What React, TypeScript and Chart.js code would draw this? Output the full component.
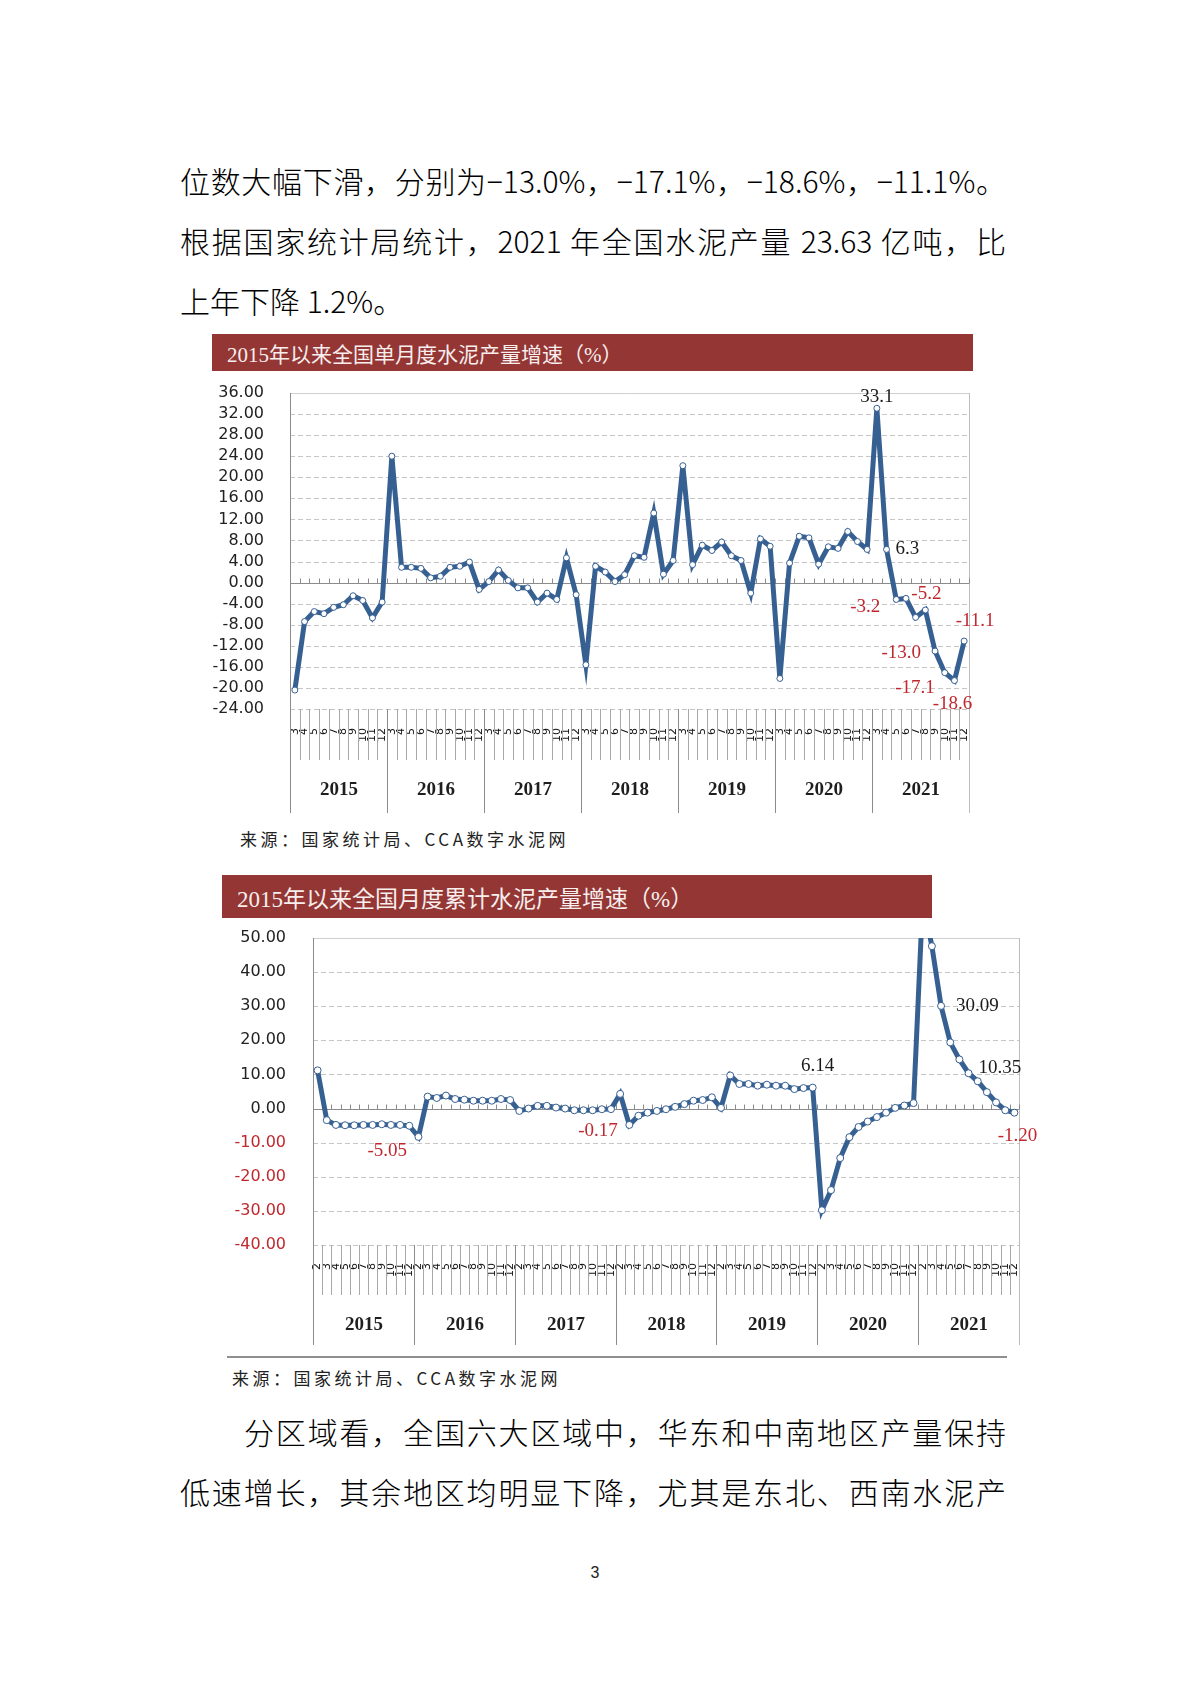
import React, { useEffect, useRef } from 'react';
import { Chart, registerables } from 'chart.js';

Chart.register(...registerables);

// ---------- data ----------
const years = ['2015', '2016', '2017', '2018', '2019', '2020', '2021'];
const singleMonthTicks = ['3', '4', '5', '6', '7', '8', '9', '10', '11', '12'];
const cumulativeMonthTicks = ['2', '3', '4', '5', '6', '7', '8', '9', '10', '11', '12'];

// 单月度增速 (%), 2015-03 ... 2021-12 (10 points per year)
const singleMonthGrowth = [
  -20.4, -7.4, -5.5, -5.9, -4.7, -4.2, -2.5, -3.4, -6.7, -3.7,
  24.0, 2.9, 2.9, 2.7, 0.9, 1.2, 2.9, 3.1, 3.9, -1.3,
  0.2, 2.4, 0.4, -1.0, -1.0, -3.7, -2.0, -3.2, 4.7, -2.3,
  -15.6, 3.1, 2.0, 0.2, 1.5, 5.1, 4.8, 13.2, 1.6, 4.2,
  22.2, 3.4, 7.1, 6.1, 7.7, 5.1, 4.2, -2.0, 8.3, 6.9,
  -18.2, 3.7, 8.8, 8.5, 3.5, 6.8, 6.5, 9.7, 7.8, 6.3,
  33.1, 6.3, -3.2, -3.0, -6.6, -5.2, -13.0, -17.1, -18.6, -11.1,
];

// 月度累计增速 (%), 2015 ... 2021 (11 points per year, 1-2月 merged)
const cumulativeGrowth = [
  11.2, -3.4, -4.8, -4.9, -4.9, -4.8, -4.8, -4.6, -4.8, -4.8, -5.05,
  -8.3, 3.5, 3.1, 3.8, 2.8, 2.6, 2.3, 2.3, 2.3, 2.8, 2.5,
  -0.7, 0.0, 0.8, 0.8, 0.3, 0.0, -0.5, -0.5, -0.5, -0.2, -0.17,
  4.3, -4.8, -2.1, -1.2, -0.7, -0.2, 0.5, 1.3, 2.3, 2.5, 3.3,
  0.2, 9.7, 7.2, 7.2, 6.7, 7.0, 6.7, 6.7, 5.7, 6.0, 6.14,
  -29.8, -23.9, -14.5, -8.4, -5.4, -3.8, -2.5, -1.2, 0.2, 0.9, 1.6,
  61.1, 47.6, 30.09, 19.4, 14.4, 10.35, 8.0, 4.8, 1.8, -0.5, -1.2,
];

// annotated values: [index, text]
const singleMonthAnnotIdx = [60, 61, 62, 65, 66, 67, 68, 69];
const singleMonthAnnotText = ['33.1', '6.3', '-3.2', '-5.2', '-13.0', '-17.1', '-18.6', '-11.1'];
const cumulativeAnnotIdx = [10, 32, 54, 68, 71, 76];
const cumulativeAnnotText = ['-5.05', '-0.17', '6.14', '30.09', '10.35', '-1.20'];

// ---------- styling ----------
const RED = '#c0282e';
const DARK = '#1a1a1a';
const LINE_BLUE = '#376092';

type Annot = { dx: number; dy: number; align: CanvasTextAlign };
const singleAnnotPos: Annot[] = [
  { dx: 0, dy: -11, align: 'center' },
  { dx: 9, dy: 0, align: 'left' },
  { dx: -16, dy: 8, align: 'right' },
  { dx: 1, dy: -16, align: 'center' },
  { dx: -14, dy: 2, align: 'right' },
  { dx: -10, dy: 15, align: 'right' },
  { dx: -2, dy: 23, align: 'center' },
  { dx: 11, dy: -20, align: 'center' },
];
const cumAnnotPos: Annot[] = [
  { dx: -22, dy: 25, align: 'center' },
  { dx: -13, dy: 22, align: 'center' },
  { dx: 5, dy: -22, align: 'center' },
  { dx: 15, dy: 0, align: 'left' },
  { dx: 10, dy: -5, align: 'left' },
  { dx: 3, dy: 23, align: 'center' },
];

function framePlugin(o: {
  perYear: number;
  catLen: number;
  yearLen: number;
  yearLabelDy: number;
  annotIdx: number[];
  annotText: string[];
  annotPos: Annot[];
}) {
  return {
    id: 'frame',
    beforeDatasetsDraw(chart: any) {
      const { ctx, chartArea: a, scales } = chart;
      const x = scales.x;
      const y = scales.y;
      const n = chart.data.labels.length;
      const step = x.getPixelForValue(1) - x.getPixelForValue(0);
      const bx = (k: number) => Math.round(x.getPixelForValue(k) - step / 2) + 0.5;
      ctx.save();
      ctx.lineWidth = 1;
      // horizontal gridlines
      for (const t of y.ticks) {
        if (t.value === 0) continue;
        const py = Math.round(y.getPixelForValue(t.value)) + 0.5;
        if (t.value === y.max) {
          ctx.setLineDash([]);
          ctx.strokeStyle = '#cfcfcf';
        } else {
          ctx.setLineDash([5, 3]);
          ctx.strokeStyle = '#c6c6c6';
        }
        ctx.beginPath();
        ctx.moveTo(a.left, py);
        ctx.lineTo(a.right, py);
        ctx.stroke();
      }
      ctx.setLineDash([]);
      // right border
      ctx.strokeStyle = '#bdbdbd';
      const rx = Math.round(a.right) + 0.5;
      ctx.beginPath();
      ctx.moveTo(rx, a.top);
      ctx.lineTo(rx, a.bottom + o.yearLen);
      ctx.stroke();
      // left axis
      ctx.strokeStyle = '#8c8c8c';
      const lx = Math.round(a.left) + 0.5;
      ctx.beginPath();
      ctx.moveTo(lx, a.top);
      ctx.lineTo(lx, a.bottom + o.yearLen);
      ctx.stroke();
      // zero line with small ticks
      const py0 = Math.round(y.getPixelForValue(0)) + 0.5;
      ctx.strokeStyle = '#8c8c8c';
      ctx.beginPath();
      ctx.moveTo(a.left, py0);
      ctx.lineTo(a.right, py0);
      for (let k = 0; k <= n; k++) {
        ctx.moveTo(bx(k), py0);
        ctx.lineTo(bx(k), py0 - 5);
      }
      ctx.stroke();
      // category and year separators below the plot
      for (let k = 1; k < n; k++) {
        const isYear = k % o.perYear === 0;
        ctx.strokeStyle = isYear ? '#8c8c8c' : '#a8a8a8';
        ctx.beginPath();
        ctx.moveTo(bx(k), a.bottom);
        ctx.lineTo(bx(k), a.bottom + (isYear ? o.yearLen : o.catLen));
        ctx.stroke();
      }
      // year labels
      ctx.fillStyle = '#1e1e1e';
      ctx.font = 'bold 19px "Liberation Serif", serif';
      ctx.textAlign = 'center';
      ctx.textBaseline = 'middle';
      years.forEach((yr, yi) => {
        const cx = (bx(yi * o.perYear) + bx((yi + 1) * o.perYear)) / 2;
        ctx.fillText(yr, cx, a.bottom + o.yearLabelDy);
      });
      ctx.restore();
    },
    afterDatasetsDraw(chart: any) {
      const { ctx, scales } = chart;
      const data = chart.data.datasets[0].data as number[];
      ctx.save();
      ctx.font = '19px "Liberation Serif", serif';
      ctx.textBaseline = 'middle';
      o.annotIdx.forEach((idx, j) => {
        const p = o.annotPos[j];
        const txt = o.annotText[j];
        const px = scales.x.getPixelForValue(idx);
        const py = scales.y.getPixelForValue(data[idx]);
        ctx.fillStyle = txt.startsWith('-') ? RED : DARK;
        ctx.textAlign = p.align;
        ctx.fillText(txt, px + p.dx, py + p.dy);
      });
      ctx.restore();
    },
  };
}

function buildConfig(p: {
  labels: string[];
  data: number[];
  yMin: number;
  yMax: number;
  yStep: number;
  yWidth: number;
  xHeight: number;
  padTop: number;
  padRight: number;
  yPad: number;
  xPad: number;
  negRed: boolean;
  pointRadius: number;
  plugin: any;
}): any {
  return {
    type: 'line',
    data: {
      labels: p.labels,
      datasets: [
        {
          data: p.data,
          borderColor: LINE_BLUE,
          borderWidth: 5,
          pointRadius: p.pointRadius,
          pointBackgroundColor: '#ffffff',
          pointBorderColor: LINE_BLUE,
          pointBorderWidth: 1,
          tension: 0,
          clip: 0,
        },
      ],
    },
    options: {
      responsive: false,
      animation: false,
      events: [],
      layout: { padding: { top: p.padTop, right: p.padRight, bottom: 0, left: 0 } },
      plugins: { legend: { display: false }, tooltip: { enabled: false }, title: { display: false } },
      scales: {
        x: {
          type: 'category',
          offset: true,
          grid: { display: false, drawTicks: false },
          border: { display: false },
          afterFit: (s: any) => {
            s.height = p.xHeight;
          },
          ticks: {
            autoSkip: false,
            minRotation: 90,
            maxRotation: 90,
            padding: p.xPad,
            color: '#111',
            font: { family: '"DejaVu Sans", sans-serif', size: 11 },
          },
        },
        y: {
          min: p.yMin,
          max: p.yMax,
          grid: { display: false, drawTicks: true, tickLength: p.yPad },
          border: { display: false },
          afterFit: (s: any) => {
            s.width = p.yWidth;
          },
          ticks: {
            stepSize: p.yStep,
            autoSkip: false,
            padding: 0,
            color: (c: any) => (p.negRed && c.tick && c.tick.value < 0 ? RED : '#222'),
            font: { family: '"DejaVu Sans", sans-serif', size: 16 },
            callback: (v: any) => Number(v).toFixed(2),
          },
        },
      },
    },
    plugins: [p.plugin],
  };
}

function ChartCanvas(props: { left: number; top: number; width: number; height: number; make: () => any }) {
  const ref = useRef<HTMLCanvasElement>(null);
  useEffect(() => {
    const chart = new Chart(ref.current as HTMLCanvasElement, props.make());
    return () => chart.destroy();
  }, []);
  return (
    <canvas
      ref={ref}
      width={props.width}
      height={props.height}
      style={{ position: 'absolute', left: props.left, top: props.top, width: props.width, height: props.height }}
    />
  );
}

const bodyFont = '"Liberation Sans Narrow", "Noto Sans CJK SC", sans-serif';

function BodyLine(props: { top: number; text: string; justify?: boolean; indent?: number }) {
  const indent = props.indent || 0;
  return (
    <div
      style={{
        position: 'absolute',
        left: 180 + indent,
        top: props.top - 20,
        width: 826 - indent,
        height: 40,
        lineHeight: '40px',
        fontSize: 30,
        fontWeight: 300,
        fontFamily: bodyFont,
        color: '#000',
        whiteSpace: 'nowrap',
        textAlign: props.justify ? 'justify' : 'left',
        textAlignLast: props.justify ? 'justify' : 'left',
      } as any}
    >
      {props.text}
    </div>
  );
}

function TitleBar(props: { left: number; top: number; width: number; height: number; size: number; text: string }) {
  return (
    <div
      style={{
        position: 'absolute',
        left: props.left,
        top: props.top,
        width: props.width,
        height: props.height,
        background: '#943634',
        color: '#f7eeee',
        fontFamily: '"Liberation Serif", "Noto Sans CJK SC", sans-serif',
        fontSize: props.size,
        display: 'flex',
        alignItems: 'center',
        paddingLeft: 15,
        boxSizing: 'border-box',
        whiteSpace: 'nowrap',
      }}
    >
      {props.text}
    </div>
  );
}

function Source(props: { left: number; top: number }) {
  return (
    <div
      style={{
        position: 'absolute',
        left: props.left,
        top: props.top - 12,
        height: 24,
        lineHeight: '24px',
        fontSize: 17,
        letterSpacing: 3.5,
        fontFamily: '"Noto Sans CJK SC", sans-serif',
        color: '#222',
        whiteSpace: 'nowrap',
      }}
    >
      来源：国家统计局、CCA数字水泥网
    </div>
  );
}

export default function App() {
  const singleLabels = years.flatMap(() => singleMonthTicks);
  const cumLabels = years.flatMap(() => cumulativeMonthTicks);

  const makeSingle = () =>
    buildConfig({
      labels: singleLabels,
      data: singleMonthGrowth,
      yMin: -24,
      yMax: 36,
      yStep: 4,
      yWidth: 90,
      xHeight: 116,
      padTop: 13,
      padRight: 31,
      yPad: 26,
      xPad: 19,
      negRed: false,
      pointRadius: 3,
      plugin: framePlugin({
        perYear: 10,
        catLen: 51,
        yearLen: 104,
        yearLabelDy: 81,
        annotIdx: singleMonthAnnotIdx,
        annotText: singleMonthAnnotText,
        annotPos: singleAnnotPos,
      }),
    });

  const makeCum = () =>
    buildConfig({
      labels: cumLabels,
      data: cumulativeGrowth,
      yMin: -40,
      yMax: 50,
      yStep: 10,
      yWidth: 93,
      xHeight: 110,
      padTop: 13,
      padRight: 41,
      yPad: 27,
      xPad: 18,
      negRed: true,
      pointRadius: 3.5,
      plugin: framePlugin({
        perYear: 11,
        catLen: 50,
        yearLen: 100,
        yearLabelDy: 80,
        annotIdx: cumulativeAnnotIdx,
        annotText: cumulativeAnnotText,
        annotPos: cumAnnotPos,
      }),
    });

  return (
    <div style={{ position: 'absolute', left: 0, top: 0, width: 1190, height: 1683, background: '#fff', overflow: 'hidden' }}>
      <BodyLine top={180} text="位数大幅下滑，分别为−13.0%，−17.1%，−18.6%，−11.1%。" justify />
      <BodyLine top={240} text="根据国家统计局统计，2021 年全国水泥产量 23.63 亿吨，比" justify />
      <BodyLine top={300} text="上年下降 1.2%。" />

      <TitleBar left={212} top={334} width={761} height={37} size={21} text="2015年以来全国单月度水泥产量增速（%）" />
      <ChartCanvas left={200} top={380} width={800} height={445} make={makeSingle} />
      <Source left={240} top={839} />

      <TitleBar left={222} top={875} width={710} height={43} size={23} text="2015年以来全国月度累计水泥产量增速（%）" />
      <ChartCanvas left={220} top={925} width={840} height={430} make={makeCum} />
      <div style={{ position: 'absolute', left: 227, top: 1356, width: 780, height: 2, background: '#8f8f8f' }} />
      <Source left={232} top={1378} />

      <BodyLine top={1431} indent={64} text="分区域看，全国六大区域中，华东和中南地区产量保持" justify />
      <BodyLine top={1491} text="低速增长，其余地区均明显下降，尤其是东北、西南水泥产" justify />

      <div
        style={{
          position: 'absolute',
          left: 565,
          top: 1563,
          width: 60,
          textAlign: 'center',
          fontSize: 16,
          lineHeight: '20px',
          fontFamily: '"Liberation Sans", sans-serif',
          color: '#222',
        }}
      >
        3
      </div>
    </div>
  );
}
